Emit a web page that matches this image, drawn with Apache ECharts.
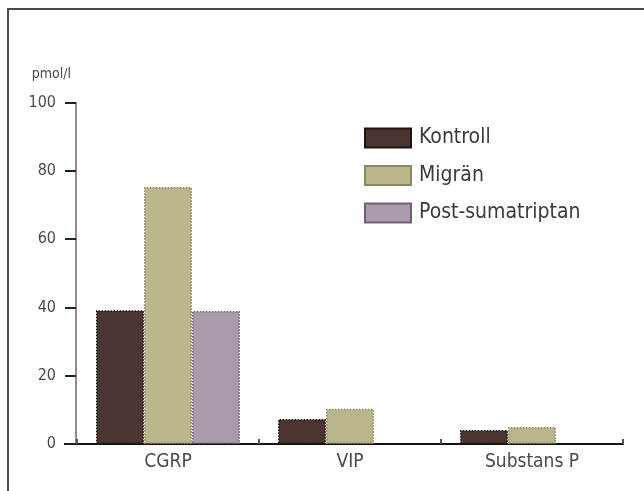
<!DOCTYPE html>
<html><head><meta charset="utf-8">
<script src="https://cdn.jsdelivr.net/npm/echarts@6/dist/echarts.min.js"></script>
<style>html,body{margin:0;padding:0;background:#fff}#c{width:644px;height:491px}</style>
</head><body><div id="c"></div>
<script>
const categories = ['CGRP', 'VIP', 'Substans P'];
const seriesNames = ['Kontroll', 'Migrän', 'Post-sumatriptan'];
const kontroll = [39.2, 7.3, 4.1];
const migran = [75.3, 10.3, 5.0];
const postSumatriptan = [39.0, null, null];
const yTicks = [0, 20, 40, 60, 80, 100];
const unitLabel = 'pmol/l';

const NARROW = '"Liberation Sans Narrow", "DejaVu Sans Condensed", "Liberation Sans", sans-serif';
const COND = '"DejaVu Sans Condensed", "Liberation Sans", sans-serif';
const colors = ['#4b3531', '#b9b68c', '#a99bab'];
const borders = ['#1e1412', '#8c8866', '#6e6270'];
const data = [kontroll, migran, postSumatriptan];

const chart = echarts.init(document.getElementById('c'), null, {renderer: 'canvas'});
chart.setOption({
  animation: false,
  backgroundColor: '#fff',
  textStyle: {fontFamily: NARROW},
  grid: {left: 77, right: 21, top: 102.7, bottom: 47, containLabel: false},
  legend: {
    orient: 'vertical', left: 359, top: 122.5,
    itemWidth: 46, itemHeight: 19, itemGap: 16.5,
    icon: 'rect',
    textStyle: {fontFamily: COND, fontSize: 21, lineHeight: 19, color: '#3a3a3a', padding: [0, 0, 0, 3]},
    data: seriesNames
  },
  xAxis: {
    type: 'category', data: categories,
    axisLine: {lineStyle: {color: '#111', width: 2}},
    axisTick: {show: true, inside: true, length: 5, alignWithLabel: false, lineStyle: {color: '#555', width: 2}},
    axisLabel: {fontFamily: NARROW, fontSize: 19, color: '#4a4a4a', margin: 9}
  },
  yAxis: {
    type: 'value', min: 0, max: 100, interval: 20, offset: 1,
    axisLine: {show: true, lineStyle: {color: '#958b8b', width: 2}},
    axisTick: {show: true, length: 11, lineStyle: {color: '#222', width: 2}},
    axisLabel: {fontFamily: NARROW, fontSize: 16, color: '#4a4a4a', margin: 20,
      formatter: v => yTicks.includes(v) ? String(v) : ''},
    splitLine: {show: false},
    name: unitLabel, nameLocation: 'end', nameGap: 21,
    nameTextStyle: {fontFamily: NARROW, fontSize: 14, color: '#4a4a4a', align: 'right', padding: [0, 5, 0, 0]}
  },
  series: seriesNames.map((n, i) => ({
    name: n, type: 'bar', data: data[i], barWidth: 48, barGap: '0%',
    itemStyle: {color: colors[i], borderColor: borders[i], borderWidth: 1.5, borderType: 'dotted'}
  })),
  graphic: [
    {type: 'line', shape: {x1: 7, y1: 9, x2: 644, y2: 9}, style: {stroke: '#4a4a40', lineWidth: 2}},
    {type: 'line', shape: {x1: 8, y1: 9, x2: 8, y2: 491}, style: {stroke: '#4a4a40', lineWidth: 2}},
    {type: 'line', shape: {x1: 64, y1: 444, x2: 77, y2: 444}, style: {stroke: '#111', lineWidth: 2}}
  ]
});
</script></body></html>
